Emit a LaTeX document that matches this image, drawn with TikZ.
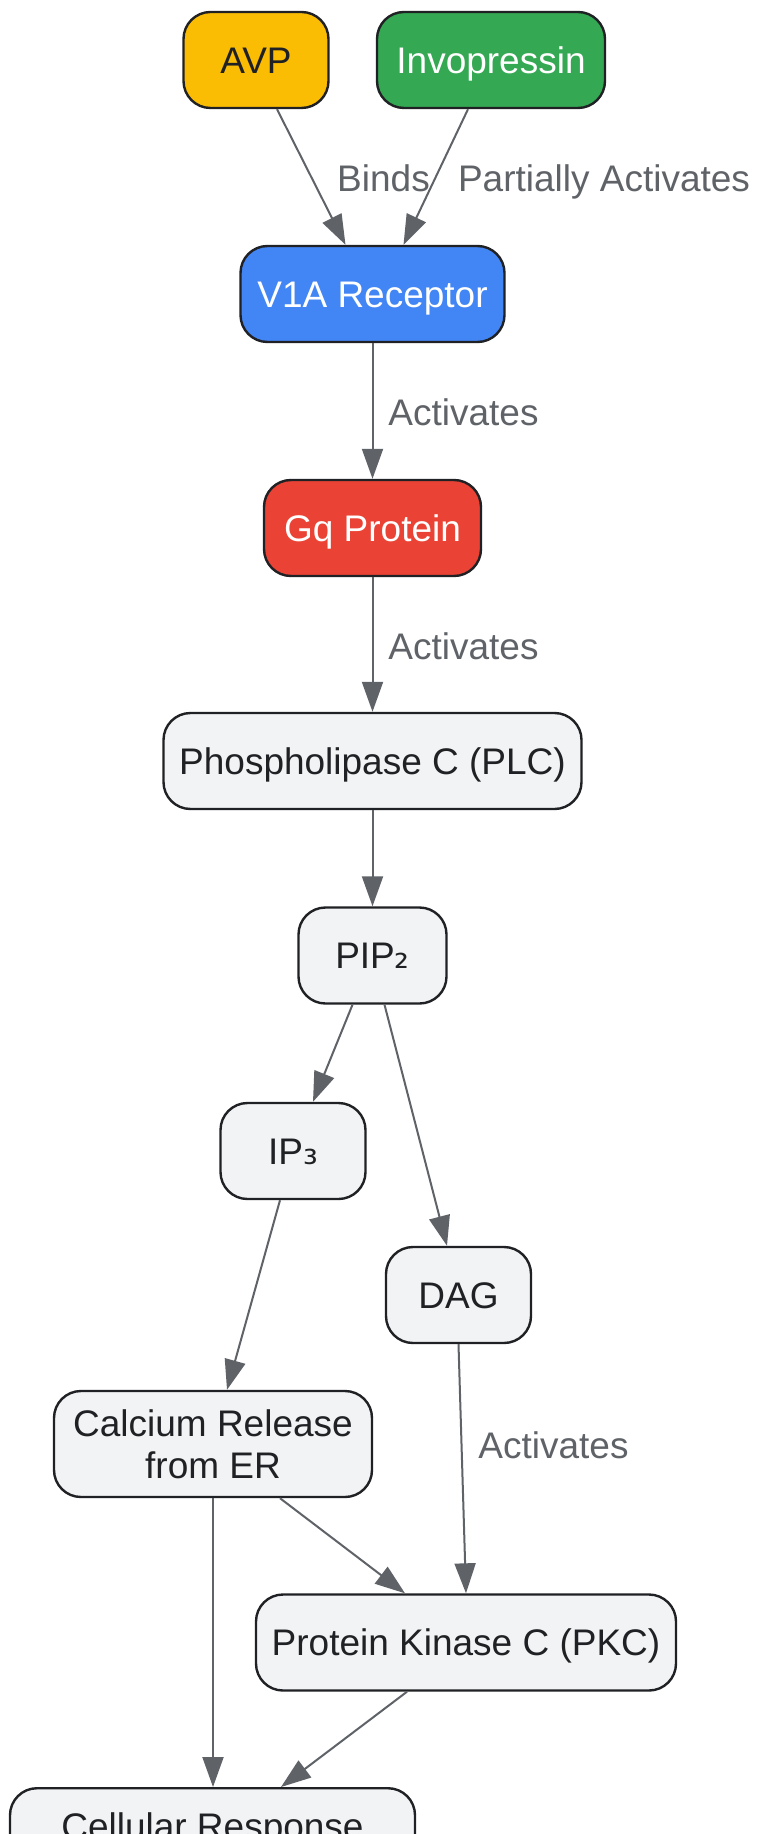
\documentclass[tikz,border=0pt]{standalone}
\usepackage{fontspec}
\setmainfont{Liberation Sans}
\newfontfamily\subsfont{DejaVu Sans}
\usetikzlibrary{positioning,calc,arrows.meta}

\definecolor{avpyellow}{HTML}{FBBC04}
\definecolor{invgreen}{HTML}{34A853}
\definecolor{recblue}{HTML}{4285F4}
\definecolor{gqred}{HTML}{EA4335}
\definecolor{boxgrey}{HTML}{F1F3F4}
\definecolor{edgeblk}{HTML}{202124}
\definecolor{linegrey}{HTML}{5F6368}

\tikzset{
  box/.style={draw=edgeblk, line width=1.2pt, rounded corners=13.5pt, fill=boxgrey,
    text=edgeblk, minimum height=48pt, inner xsep=0pt,
    font=\fontsize{18.5}{21}\selectfont, text height=13.3pt, text depth=0pt},
  lbl/.style={text=linegrey, inner sep=0pt, font=\fontsize{18.5}{21}\selectfont,
    text height=13.3pt, text depth=0pt},
  conn/.style={draw=linegrey, line width=1pt, -{Triangle[length=15pt,width=10.5pt]}}
}

\begin{document}
\begin{tikzpicture}[x=0.5pt, y=-0.5pt]
  \useasboundingbox (0,0) rectangle (763,1834);
  \clip (0,0) rectangle (763,1834);
  \fill[white] (0,0) rectangle (763,1834);

  % nodes
  \node[box, fill=avpyellow, minimum width=72.5pt] (avp) at (256,60) {AVP};
  \node[box, fill=invgreen, text=white, minimum width=114pt] (inv) at (491,60) {Invopressin};
  \node[box, fill=recblue, text=white, minimum width=132pt] (v1a) at (372.5,294) {V1A Receptor};
  \node[box, fill=gqred, text=white, minimum width=108.5pt] (gq) at (372.5,528) {Gq Protein};
  \node[box, minimum width=209pt] (plc) at (372.5,761) {Phospholipase C (PLC)};
  \node[box, minimum width=74pt] (pip2) at (372.5,955.5) {PIP{\subsfont ₂}};
  \node[box, minimum width=72.5pt] (ip3) at (293,1151) {IP{\subsfont ₃}};
  \node[box, minimum width=72.5pt] (dag) at (458.5,1295) {DAG};
  \node[box, align=center, text height={}, text depth={}, minimum height=53pt,
    minimum width=159pt] (calcium) at (213,1444) {Calcium Release\\from ER};
  \node[box, minimum width=210pt] (pkc) at (466,1642.5) {Protein Kinase C (PKC)};
  \node[box, anchor=north, minimum height=0pt, inner ysep=12.5pt,
    minimum width=202.5pt] (cell) at (212.5,1787) {Cellular Response};

  % edges
  \draw[conn] ($(avp.south)+(21,0)$) -- ($(v1a.north)+(-27,0)$);
  \draw[conn] ($(inv.south)+(-23,0)$) -- ($(v1a.north)+(31,0)$);
  \draw[conn] (v1a.south) -- (gq.north);
  \draw[conn] (gq.south) -- (plc.north);
  \draw[conn] (plc.south) -- (pip2.north);
  \draw[conn] ($(pip2.south)+(-20,0)$) -- ($(ip3.north)+(20,0)$);
  \draw[conn] ($(pip2.south)+(12,0)$) -- ($(dag.north)+(-11.5,0)$);
  \draw[conn] ($(ip3.south)+(-13,0)$) -- ($(calcium.north)+(14,0)$);
  \draw[conn] (dag.south) -- (pkc.north);
  \draw[conn] ($(calcium.south)+(67,0)$) -- ($(pkc.north)+(-61,0)$);
  \draw[conn] (calcium.south) -- (calcium.south |- cell.north);
  \draw[conn] ($(pkc.south)+(-59,0)$) -- ($(cell.north)+(68.5,0)$);

  % edge labels
  \node[lbl] (lbinds) at (383.5,178.5) {Binds};
  \node[lbl] (lpartial) at (604,178.5) {Partially Activates};
  \node[lbl] (lact1) at (463.5,412) {Activates};
  \node[lbl] (lact2) at (463.5,646) {Activates};
  \node[lbl] (lact3) at (553.5,1445.5) {Activates};
\end{tikzpicture}
\end{document}
